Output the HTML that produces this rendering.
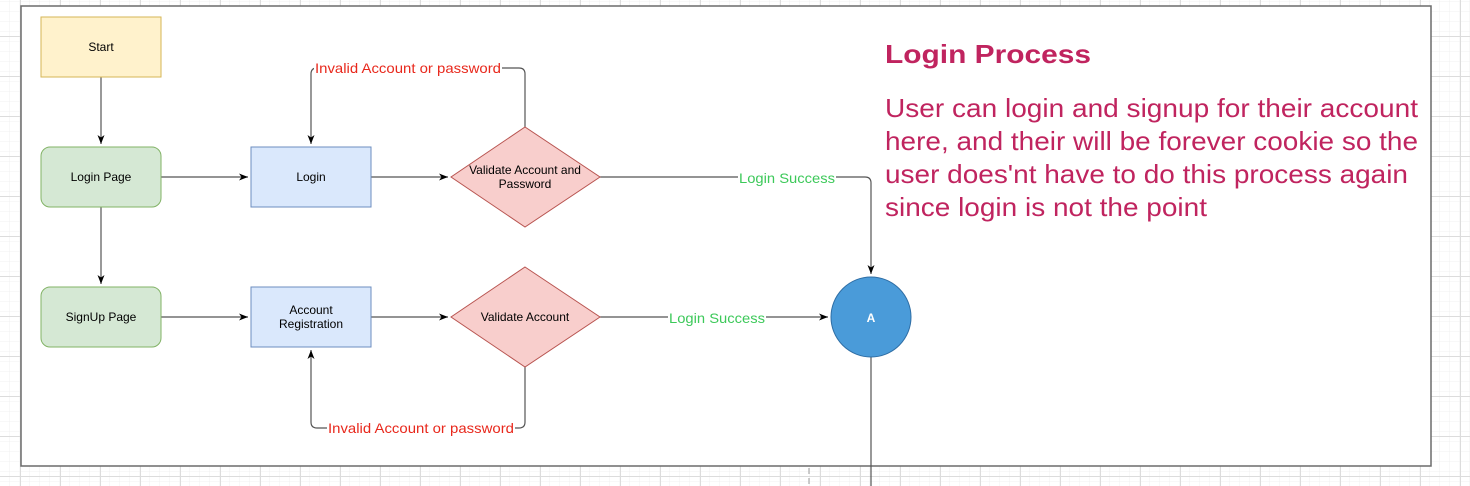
<!DOCTYPE html>
<html><head><meta charset="utf-8"><style>
html,body{margin:0;padding:0;background:#fff}
svg{display:block;font-family:"Liberation Sans",Helvetica,Arial,sans-serif}
</style></head><body>
<svg width="1470" height="486" viewBox="0 0 1470 486" xmlns="http://www.w3.org/2000/svg">
<defs>
<pattern id="minor" width="10" height="10" patternUnits="userSpaceOnUse" x="0" y="6">
<path d="M10 0V10M0 10H10" fill="none" stroke="#f0f0f0" stroke-width="1"/>
</pattern>
<pattern id="major" width="40" height="40" patternUnits="userSpaceOnUse" x="20" y="36">
<rect width="40" height="40" fill="url(#minor)"/>
<path d="M0.5 0V40M0 0.5H40" fill="none" stroke="#dcdcdc" stroke-width="1"/>
</pattern>
<marker id="ar" markerWidth="10" markerHeight="10" refX="9" refY="5" orient="auto" markerUnits="userSpaceOnUse">
<path d="M0 1.5L9 5L0 8.5L2.5 5Z" fill="#000"/>
</marker>
</defs>
<rect width="1470" height="486" fill="url(#major)"/>
<rect x="21" y="6" width="1410" height="460" fill="#fff" stroke="#6b6b6b" stroke-width="1.5"/>
<line x1="809" y1="468" x2="809" y2="486" stroke="#bbb" stroke-width="1.5" stroke-dasharray="6 4"/>

<g stroke="#555" stroke-width="1.2" fill="none">
<path d="M101 77V144" marker-end="url(#ar)"/>
<path d="M101 207V284" marker-end="url(#ar)"/>
<path d="M161 177H248" marker-end="url(#ar)"/>
<path d="M371 177H448" marker-end="url(#ar)"/>
<path d="M161 317H248" marker-end="url(#ar)"/>
<path d="M371 317H448" marker-end="url(#ar)"/>
<path d="M525 127V74Q525 68 519 68H317Q311 68 311 74V144" marker-end="url(#ar)"/>
<path d="M525 367V422Q525 428 519 428H317Q311 428 311 422V350" marker-end="url(#ar)"/>
<path d="M600 177H865Q871 177 871 183V274" marker-end="url(#ar)"/>
<path d="M600 317H828" marker-end="url(#ar)"/>
<path d="M871 357V486"/>
</g>

<rect x="41" y="17" width="120" height="60" fill="#fff2cc" stroke="#d6b656"/>
<rect x="41" y="147" width="120" height="60" rx="9" fill="#d5e8d4" stroke="#82b366"/>
<rect x="41" y="287" width="120" height="60" rx="9" fill="#d5e8d4" stroke="#82b366"/>
<rect x="251" y="147" width="120" height="60" fill="#dae8fc" stroke="#6c8ebf"/>
<rect x="251" y="287" width="120" height="60" fill="#dae8fc" stroke="#6c8ebf"/>
<path d="M525 127L600 177L525 227L451 177Z" fill="#f8cecc" stroke="#b85450"/>
<path d="M525 267L600 317L525 367L451 317Z" fill="#f8cecc" stroke="#b85450"/>
<circle cx="871" cy="317" r="40" fill="#4a9bd9" stroke="#2f6ea5"/>

<g font-size="12" fill="#000" text-anchor="middle">
<text x="101" y="51">Start</text>
<text x="101" y="181">Login Page</text>
<text x="101" y="321">SignUp Page</text>
<text x="311" y="181">Login</text>
<text x="311" y="314">Account</text>
<text x="311" y="328">Registration</text>
<text x="525" y="174">Validate Account and</text>
<text x="525" y="188">Password</text>
<text x="525" y="321">Validate Account</text>
<text x="871" y="322" fill="#fff" font-weight="bold">A</text>
</g>
<g font-size="14">
<rect x="314" y="60" width="188" height="16" fill="#fff"/>
<text x="315" y="73" fill="#e8281c" textLength="186" lengthAdjust="spacingAndGlyphs">Invalid Account or password</text>
<rect x="327" y="420" width="188" height="16" fill="#fff"/>
<text x="328" y="433" fill="#e8281c" textLength="186" lengthAdjust="spacingAndGlyphs">Invalid Account or password</text>
<rect x="738" y="170" width="98" height="16" fill="#fff"/>
<text x="739" y="183" fill="#3dc95a" textLength="96" lengthAdjust="spacingAndGlyphs">Login Success</text>
<rect x="668" y="310" width="98" height="16" fill="#fff"/>
<text x="669" y="323" fill="#3dc95a" textLength="96" lengthAdjust="spacingAndGlyphs">Login Success</text>
</g>
<g fill="#c0245f">
<text x="885" y="63" font-size="26" font-weight="bold" textLength="206" lengthAdjust="spacingAndGlyphs">Login Process</text>
<g font-size="26" lengthAdjust="spacingAndGlyphs">
<text x="885" y="117" textLength="533" lengthAdjust="spacingAndGlyphs">User can login and signup for their account</text>
<text x="885" y="150" textLength="533" lengthAdjust="spacingAndGlyphs">here, and their will be forever cookie so the</text>
<text x="885" y="183" textLength="523" lengthAdjust="spacingAndGlyphs">user does'nt have to do this process again</text>
<text x="885" y="216" textLength="322" lengthAdjust="spacingAndGlyphs">since login is not the point</text>
</g>
</g>
</svg>
</body></html>
